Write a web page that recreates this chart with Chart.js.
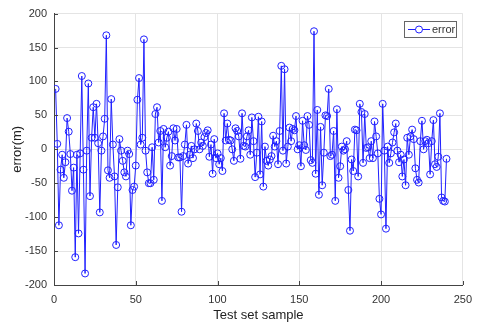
<!DOCTYPE html>
<html>
<head>
<meta charset="utf-8">
<script src="https://cdn.jsdelivr.net/npm/chart.js@4.4.0/dist/chart.umd.min.js"></script>
<style>
  html, body { margin:0; padding:0; background:#fff; }
  #wrap { width:480px; height:326px; }
</style>
</head>
<body>
<div id="wrap"><canvas id="mainChart" width="480" height="326"></canvas></div>
<script>
var seriesName = 'error';
var xTicks = [0, 50, 100, 150, 200, 250];
var yTicks = [-200, -150, -100, -50, 0, 50, 100, 150, 200];
// error per test sample (m)
var errorM = [
  89, 8, -112, -30, -8, -42, -19, 46, 26, -7, -61, -27, -159, -8, -124, -6, 108, -30, -183, -2,
  97, -69, 17, 62, 17, 67, 9, -93, -2, 19, 45, 168, -31, -42, 74, 7, -40, -141, -56, 15,
  -2, -17, -34, -40, -2, -7, -112, -60, -55, -24, 73, 105, 7, 17, 162, -2, -34, -50, -50, 3,
  -45, 52, 62, 10, 27, -76, 30, 3, 17, 26, -24, -10, 31, 13, 30, -12, -12, -92, -10, 7,
  36, -21, -8, 5, -13, 0, 38, 27, 0, 10, 5, 18, 24, 28, -11, 7, -36, 15, -13, -6,
  -22, -13, -32, 53, 13, 38, 14, 13, 0, -17, 31, 27, 19, -14, 53, 5, 4, 19, 28, -8,
  47, 12, -41, -5, 48, -37, 41, -55, 4, -17, -24, -15, -10, 20, 4, 12, -22, 27, 123, -2,
  118, -21, 4, 32, 12, 30, 28, 49, 0, 6, -25, 42, 6, -1, 49, 36, -16, -20, 174, -36,
  58, -67, 33, -53, -5, 50, 49, 89, -10, -8, 27, -76, 59, -42, -25, 4, -2, 0, 12, -60,
  -120, -15, -32, 29, 28, -40, 67, 55, -20, 52, 2, 3, -13, 12, -13, 41, 19, -6, -73, -96,
  67, -2, -117, 4, -20, -6, 10, 25, 38, -2, -19, -8, -40, -15, -53, 17, -8, 19, 29, 15,
  -28, -45, -49, 12, 42, 0, 12, 14, 9, -37, 12, 43, -22, -26, -11, 53, -71, -76, -77, -14
];

var lineColor = '#2020ff';
var points = [];
for (var i = 0; i < errorM.length; i++) {
  points.push({x: i + 1, y: errorM[i]});
}

var boxPlugin = {
  id: 'boxPlugin',
  afterDraw: function(chart) {
    var ctx = chart.ctx;
    var xs = chart.scales.x, ys = chart.scales.y;
    var a = chart.chartArea;
    ctx.save();
    // inward tick marks
    ctx.strokeStyle = '#444';
    ctx.lineWidth = 1;
    ctx.beginPath();
    xTicks.forEach(function(t) {
      var px = Math.round(xs.getPixelForValue(t)) + 0.5;
      ctx.moveTo(px, a.bottom); ctx.lineTo(px, a.bottom - 4);
    });
    yTicks.forEach(function(t) {
      var py = Math.round(ys.getPixelForValue(t)) + 0.5;
      ctx.moveTo(a.left, py); ctx.lineTo(a.left + 4, py);
    });
    ctx.stroke();
    // legend
    ctx.fillStyle = '#fff';
    ctx.strokeStyle = '#666';
    ctx.fillRect(404.5, 21.5, 52, 16);
    ctx.strokeRect(404.5, 21.5, 52, 16);
    ctx.strokeStyle = lineColor;
    ctx.beginPath();
    ctx.moveTo(408, 29.5); ctx.lineTo(430, 29.5);
    ctx.stroke();
    ctx.beginPath();
    ctx.arc(419, 29.5, 3.5, 0, Math.PI * 2);
    ctx.fill(); ctx.stroke();
    ctx.fillStyle = '#333';
    ctx.font = '11px "Liberation Sans", Arial, sans-serif';
    ctx.textBaseline = 'middle';
    ctx.fillText(seriesName, 432, 30);
    ctx.restore();
  }
};

var chart = new Chart(document.getElementById('mainChart'), {
  type: 'line',
  data: {
    datasets: [{
      label: seriesName,
      data: points,
      borderColor: lineColor,
      backgroundColor: 'rgba(0,0,0,0)',
      pointBackgroundColor: 'rgba(0,0,0,0)',
      pointBorderColor: lineColor,
      pointRadius: 3.5,
      pointBorderWidth: 1,
      borderWidth: 1,
      lineTension: 0,
      fill: false
    }]
  },
  options: {
    responsive: false,
    animation: false,
    devicePixelRatio: 1,
    layout: { padding: { top: 9, right: 14, left: 0, bottom: 0 } },
    plugins: { legend: { display: false }, tooltip: { enabled: false } },
    scales: {
      x: {
        type: 'linear',
        min: 0, max: 250,
        afterFit: function(s) { s.height = 41; },
        afterBuildTicks: function(s) { s.ticks = xTicks.map(function(v) { return {value: v}; }); },
        grid: { color: '#e4e4e4', drawTicks: false },
        border: { color: '#444', width: 1 },
        ticks: { padding: 8, color: '#333', font: { family: '"Liberation Sans", Arial, sans-serif', size: 11 } },
        title: { display: true, text: 'Test set sample', color: '#222', padding: { top: 0, bottom: 3 },
                 font: { family: '"Liberation Sans", Arial, sans-serif', size: 13 } }
      },
      y: {
        min: -200, max: 200,
        afterFit: function(s) { s.width = 54; },
        afterBuildTicks: function(s) { s.ticks = yTicks.map(function(v) { return {value: v}; }); },
        grid: { color: '#e4e4e4', drawTicks: false },
        border: { color: '#444', width: 1 },
        ticks: { padding: 7, color: '#333', font: { family: '"Liberation Sans", Arial, sans-serif', size: 11 } },
        title: { display: true, text: 'error(m)', color: '#222', padding: { top: 10, bottom: 0 },
                 font: { family: '"Liberation Sans", Arial, sans-serif', size: 13 } }
      }
    }
  },
  plugins: [boxPlugin]
});
</script>
</body>
</html>
